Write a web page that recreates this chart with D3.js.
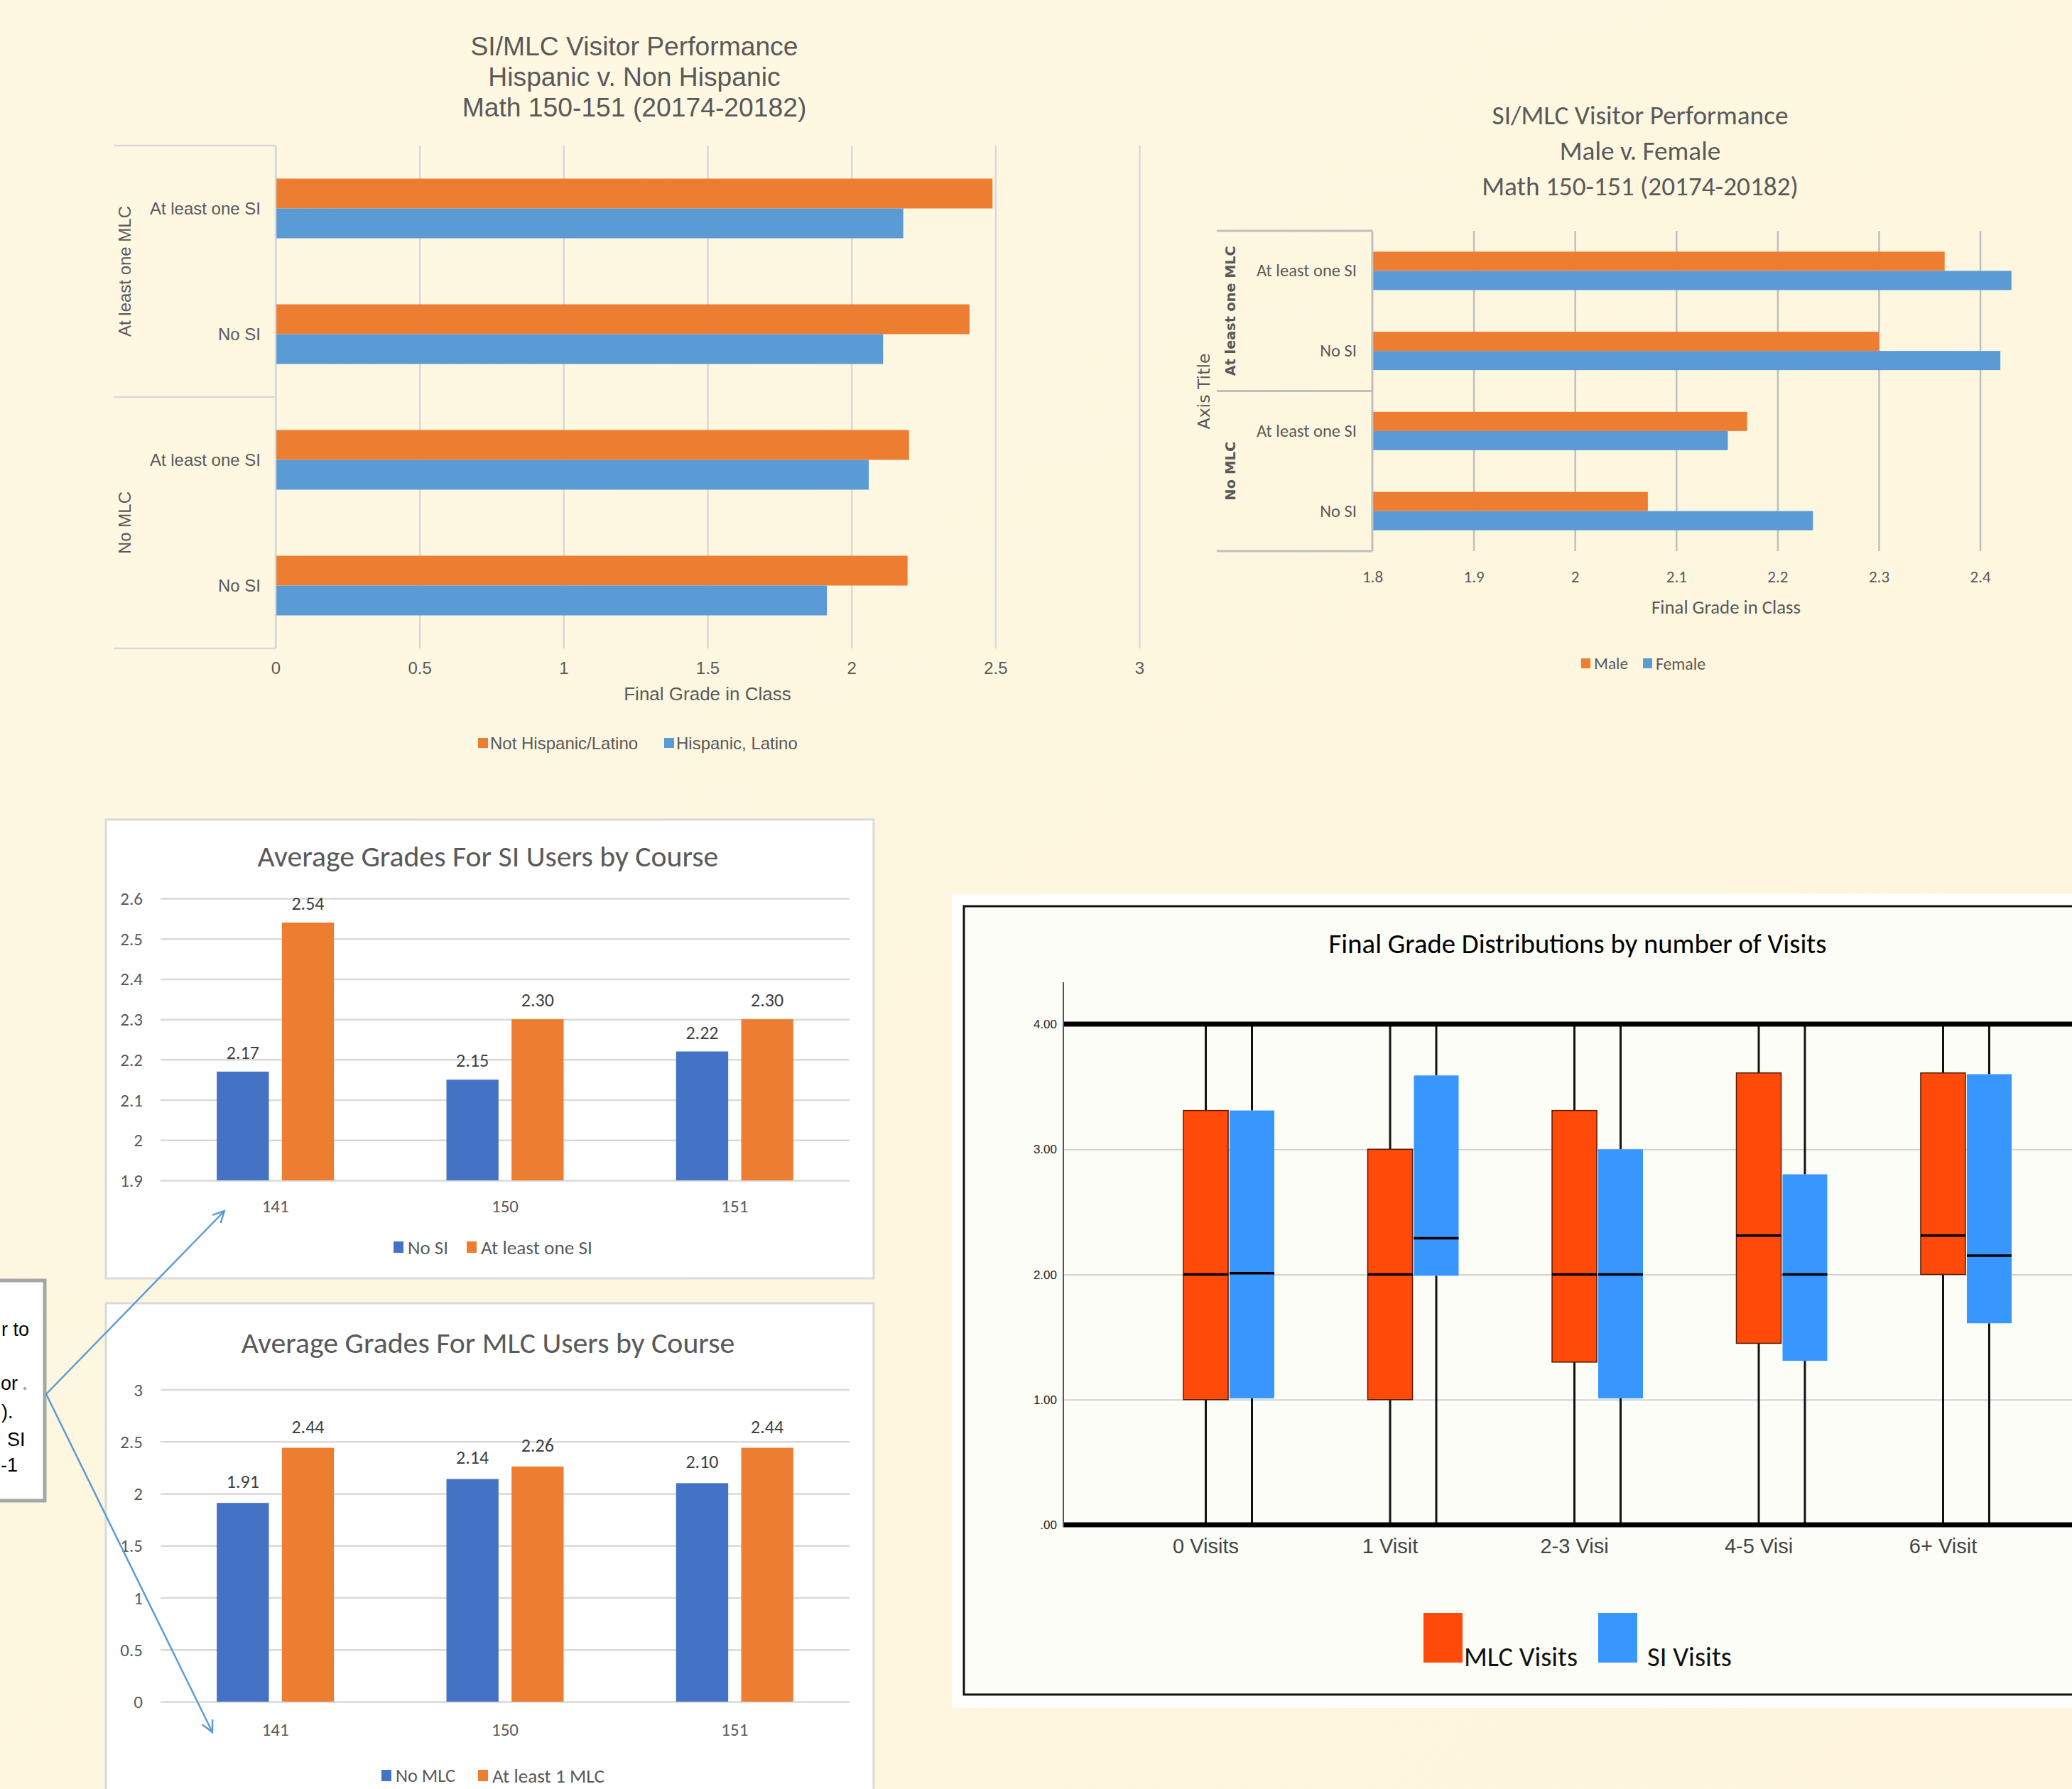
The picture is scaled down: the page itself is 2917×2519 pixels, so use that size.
<!DOCTYPE html>
<html>
<head>
<meta charset="utf-8">
<script src="https://cdn.jsdelivr.net/npm/d3@7"></script>
<style>
  html,body{margin:0;padding:0;background:#FEF7E0;}
  svg{display:block;}
</style>
</head>
<body>
<svg id="c" width="2917" height="2519"></svg>
<script>
// ---------------- DATA ----------------
// Chart 1: Hispanic v. Non Hispanic
const hispGroups = ["At least one MLC", "No MLC"];
const siCats = ["At least one SI", "No SI"];
const hispSeries = ["Not Hispanic/Latino", "Hispanic, Latino"];
const hispNotHispanic = [2.49, 2.41, 2.20, 2.195];
const hispHispanic = [2.18, 2.11, 2.06, 1.915];
const hispTicks = [0, 0.5, 1, 1.5, 2, 2.5, 3];
const hispTitle = ["SI/MLC Visitor Performance", "Hispanic v. Non Hispanic", "Math 150-151 (20174-20182)"];

// Chart 2: Male v. Female
const genderSeries = ["Male", "Female"];
const genderMale = [2.365, 2.30, 2.17, 2.072];
const genderFemale = [2.431, 2.42, 2.151, 2.235];
const genderTicks = [1.8, 1.9, 2, 2.1, 2.2, 2.3, 2.4];
const genderGrid = [1.9, 2, 2.1, 2.2, 2.3, 2.4, 2.5];
const genderTitle = ["SI/MLC Visitor Performance", "Male v. Female", "Math 150-151 (20174-20182)"];

// Chart 3: SI users by course
const courses = ["141", "150", "151"];
const siSeries = ["No SI", "At least one SI"];
const siNo = [2.17, 2.15, 2.22];
const siYes = [2.54, 2.30, 2.30];
const siTicks = [1.9, 2, 2.1, 2.2, 2.3, 2.4, 2.5, 2.6];

// Chart 4: MLC users by course
const mlcSeries = ["No MLC", "At least 1 MLC"];
const mlcNo = [1.91, 2.14, 2.10];
const mlcYes = [2.44, 2.26, 2.44];
const mlcTicks = [0, 0.5, 1, 1.5, 2, 2.5, 3];

// Chart 5: box plots  [min, q1, median, q3, max]
const visitCats = ["0 Visits", "1 Visit", "2-3 Visi", "4-5 Visi", "6+ Visit"];
const boxSeries = ["MLC Visits", "SI Visits"];
const mlcBox = [[0, 1.00, 2.00, 3.31, 4], [0, 1.00, 2.00, 3.00, 4], [0, 1.30, 2.00, 3.31, 4], [0, 1.45, 2.31, 3.61, 4], [0, 2.00, 2.31, 3.61, 4]];
const siBox  = [[0, 1.01, 2.01, 3.31, 4], [0, 1.99, 2.29, 3.59, 4], [0, 1.01, 2.00, 3.00, 4], [0, 1.31, 2.00, 2.80, 4], [0, 1.61, 2.15, 3.60, 4]];
const boxTicks = [0, 1, 2, 3, 4];

// Callout text fragments (visible part of a cropped text box)
const calloutLines = ["r to", "or", ").", "SI", "-1"];

// ---------------- STYLE ----------------
const svg = d3.select("#c");
const W = 2917, H = 2519;
const F_ARIAL = "'Liberation Sans', Arial, sans-serif";
const F_CAL = "Carlito, Lato, sans-serif";
const F_VERD = "'DejaVu Sans', Verdana, sans-serif";
const GREY = "#595959";
const ORANGE = "#ED7D31", LBLUE = "#5B9BD5", DBLUE = "#4472C4";
const BOX_RED = "#FF4A0A", BOX_BLUE = "#3896FF";

function fit(sel, target) {
  const fs = parseFloat(sel.attr("font-size"));
  const w = sel.node().getComputedTextLength();
  const nf = w > 0 ? fs * target / w : fs;
  sel.attr("font-size", nf);
  return nf;
}

const defs = svg.append("defs");
const bg = defs.append("linearGradient").attr("id", "bg").attr("x1", 0).attr("y1", 0).attr("x2", 1).attr("y2", 1);
bg.append("stop").attr("offset", 0).attr("stop-color", "#FEF8E3");
bg.append("stop").attr("offset", 1).attr("stop-color", "#FEF5DC");
svg.append("rect").attr("width", W).attr("height", H).attr("fill", "url(#bg)");

// ============ Chart 1: Hispanic ============
(function () {
  const L = 388, R = 1604, T = 205, B = 913;
  const rowKeys = hispGroups.flatMap(g => siCats.map(s => g + "|" + s));
  const x = d3.scaleLinear().domain([0, 3]).range([L, R]);
  const y = d3.scaleBand().domain(rowKeys).range([T, B]);
  const sub = d3.scaleBand().domain(hispSeries).range([0, y.bandwidth()]).paddingOuter(1.107);
  const g = svg.append("g");

  const tt = g.append("g").attr("font-family", F_ARIAL).attr("fill", GREY).attr("text-anchor", "middle");
  const t0 = tt.append("text").attr("x", 893).attr("y", 65).attr("dominant-baseline", "central").attr("font-size", 37).text(hispTitle[0]);
  const fs = fit(t0, 461);
  hispTitle.slice(1).forEach((s, i) => tt.append("text").attr("x", 893).attr("y", 108 + i * 43)
    .attr("dominant-baseline", "central").attr("font-size", fs).text(s));

  const ax = g.append("g").attr("transform", `translate(0,${B})`)
    .call(d3.axisBottom(x).tickValues(hispTicks).tickSize(-(B - T)).tickFormat(d => String(d)));
  ax.select(".domain").remove();
  ax.selectAll("line").attr("stroke", "#d9d9d9").attr("stroke-width", 2.5);
  ax.selectAll("text").attr("y", 27).attr("dy", null).attr("dominant-baseline", "central")
    .attr("font-size", 24).attr("font-family", F_ARIAL).attr("fill", GREY);

  const rows = rowKeys.map((k, i) => ({ k, vals: [hispNotHispanic[i], hispHispanic[i]] }));
  g.selectAll("g.row").data(rows).join("g").attr("class", "row")
    .attr("transform", d => `translate(0,${y(d.k)})`)
    .selectAll("rect").data(d => hispSeries.map((s, j) => ({ s, v: d.vals[j], j })))
    .join("rect")
    .attr("x", x(0)).attr("y", d => sub(d.s)).attr("height", sub.bandwidth())
    .attr("width", d => x(d.v) - x(0)).attr("fill", d => [ORANGE, LBLUE][d.j]);

  const cy = g.append("g").attr("transform", `translate(${L},0)`)
    .call(d3.axisLeft(y).tickSize(0).tickPadding(21).tickFormat(k => k.split("|")[1]));
  cy.select(".domain").remove();
  cy.selectAll("text").attr("dy", null).attr("dominant-baseline", "central")
    .attr("font-size", 24).attr("font-family", F_ARIAL).attr("fill", GREY);

  const sep = [T, y(rowKeys[2]), B];
  g.selectAll("line.sep").data(sep).join("line").attr("class", "sep")
    .attr("x1", 160).attr("x2", L).attr("y1", d => d).attr("y2", d => d)
    .attr("stroke", "#d9d9d9").attr("stroke-width", 2.5);
  g.append("line").attr("x1", L).attr("x2", L).attr("y1", T).attr("y2", B)
    .attr("stroke", "#d9d9d9").attr("stroke-width", 2.5);

  hispGroups.forEach((gl, i) => {
    const cyy = (sep[i] + sep[i + 1]) / 2;
    g.append("text").attr("transform", `translate(175,${cyy}) rotate(-90)`)
      .attr("text-anchor", "middle").attr("dominant-baseline", "central")
      .attr("font-family", F_ARIAL).attr("font-size", 24).attr("fill", GREY).text(gl);
  });

  g.append("text").attr("x", (L + R) / 2).attr("y", 977).attr("text-anchor", "middle")
    .attr("dominant-baseline", "central").attr("font-family", F_ARIAL).attr("font-size", 26)
    .attr("fill", GREY).text("Final Grade in Class");

  const lx = [673, 935];
  hispSeries.forEach((s, i) => {
    g.append("rect").attr("x", lx[i]).attr("y", 1046 - 7).attr("width", 14).attr("height", 14)
      .attr("fill", [ORANGE, LBLUE][i]);
    g.append("text").attr("x", lx[i] + 17).attr("y", 1046).attr("dominant-baseline", "central")
      .attr("font-family", F_ARIAL).attr("font-size", 24).attr("fill", GREY).text(s);
  });
})();

// ============ Chart 2: Gender ============
(function () {
  const L = 1932, T = 325, B = 776;
  const rowKeys = hispGroups.flatMap(g => siCats.map(s => g + "|" + s));
  const x = d3.scaleLinear().domain([1.8, 2.5]).range([L, L + 0.7 * 1426]);
  const y = d3.scaleBand().domain(rowKeys).range([T, B]);
  const sub = d3.scaleBand().domain(genderSeries).range([0, y.bandwidth()]).paddingOuter(1.088);
  const g = svg.append("g");

  const tt = g.append("g").attr("font-family", F_CAL).attr("fill", GREY).attr("text-anchor", "middle");
  const t0 = tt.append("text").attr("x", 2309).attr("y", 162).attr("dominant-baseline", "central").attr("font-size", 36).text(genderTitle[0]);
  const fs = fit(t0, 417);
  genderTitle.slice(1).forEach((s, i) => tt.append("text").attr("x", 2309).attr("y", 212 + i * 50)
    .attr("dominant-baseline", "central").attr("font-size", fs).text(s));

  // gridlines
  const gr = g.append("g").attr("transform", `translate(0,${B})`)
    .call(d3.axisBottom(x).tickValues(genderGrid).tickSize(-(B - T)).tickFormat(""));
  gr.select(".domain").remove();
  gr.selectAll("line").attr("stroke", "#bfbfbf").attr("stroke-width", 2.5);
  // tick labels
  const ax = g.append("g").attr("transform", `translate(0,${B})`)
    .call(d3.axisBottom(x).tickValues(genderTicks).tickSize(0).tickFormat(d => String(d)));
  ax.select(".domain").remove();
  ax.selectAll("text").attr("y", 36).attr("dy", null).attr("dominant-baseline", "central")
    .attr("font-size", 23).attr("font-family", F_CAL).attr("fill", GREY);

  const rows = rowKeys.map((k, i) => ({ k, vals: [genderMale[i], genderFemale[i]] }));
  g.selectAll("g.row").data(rows).join("g").attr("class", "row")
    .attr("transform", d => `translate(0,${y(d.k)})`)
    .selectAll("rect").data(d => genderSeries.map((s, j) => ({ s, v: d.vals[j], j })))
    .join("rect")
    .attr("x", x(1.8)).attr("y", d => sub(d.s)).attr("height", sub.bandwidth())
    .attr("width", d => x(d.v) - x(1.8)).attr("fill", d => [ORANGE, LBLUE][d.j]);

  const cy = g.append("g").attr("transform", `translate(${L},0)`)
    .call(d3.axisLeft(y).tickSize(0).tickPadding(22).tickFormat(k => k.split("|")[1]));
  cy.select(".domain").remove();
  const ct = cy.selectAll("text").attr("dy", null).attr("dominant-baseline", "central")
    .attr("font-size", 23).attr("font-family", F_CAL).attr("fill", GREY);
  const cfs = fit(d3.select(ct.nodes()[0]), 141);
  ct.attr("font-size", cfs);

  const sep = [T, y(rowKeys[2]), B];
  g.selectAll("line.sep").data(sep).join("line").attr("class", "sep")
    .attr("x1", 1713).attr("x2", L).attr("y1", d => d).attr("y2", d => d)
    .attr("stroke", "#bfbfbf").attr("stroke-width", 3);
  g.append("line").attr("x1", L).attr("x2", L).attr("y1", T).attr("y2", B)
    .attr("stroke", "#bfbfbf").attr("stroke-width", 3);

  const glw = [183, 83];
  hispGroups.forEach((gl, i) => {
    const cyy = (sep[i] + sep[i + 1]) / 2;
    const t = g.append("text").attr("transform", `translate(1732,${cyy}) rotate(-90)`)
      .attr("text-anchor", "middle").attr("dominant-baseline", "central")
      .attr("font-family", F_VERD).attr("font-weight", "bold").attr("font-size", 19).attr("fill", GREY).text(gl);
    fit(t, glw[i]);
  });
  const at = g.append("text").attr("transform", `translate(1695,551) rotate(-90)`)
    .attr("text-anchor", "middle").attr("dominant-baseline", "central")
    .attr("font-family", F_VERD).attr("font-size", 19).attr("fill", GREY).text("Axis Title");
  fit(at, 107);

  const xt = g.append("text").attr("x", 2430).attr("y", 855).attr("text-anchor", "middle")
    .attr("dominant-baseline", "central").attr("font-family", F_CAL).attr("font-size", 25)
    .attr("fill", GREY).text("Final Grade in Class");
  fit(xt, 210);

  const lx = [2226, 2313], lw = [48, 70];
  genderSeries.forEach((s, i) => {
    g.append("rect").attr("x", lx[i]).attr("y", 934 - 7).attr("width", 13).attr("height", 14)
      .attr("fill", [ORANGE, LBLUE][i]);
    const lt = g.append("text").attr("x", lx[i] + 18).attr("y", 934).attr("dominant-baseline", "central")
      .attr("font-family", F_CAL).attr("font-size", 22).attr("fill", GREY).text(s);
    fit(lt, lw[i]);
  });
})();

// ============ Column charts (3 & 4) ============
function columnChart(opt) {
  const g = svg.append("g");
  g.append("rect").attr("x", 149).attr("y", opt.boxTop).attr("width", 1081).attr("height", opt.boxH)
    .attr("fill", "#ffffff").attr("stroke", "#d9d9d9").attr("stroke-width", 3);
  const t = g.append("text").attr("x", 687).attr("y", opt.titleY).attr("text-anchor", "middle")
    .attr("dominant-baseline", "central").attr("font-family", F_CAL).attr("font-size", 36)
    .attr("fill", GREY).text(opt.title);
  fit(t, opt.titleW);

  const L = 226, R = 1196;
  const x = d3.scaleBand().domain(courses).range([L, R]);
  const xs = d3.scaleBand().domain(opt.series).range([x.bandwidth() / 2 - 82.5, x.bandwidth() / 2 + 82.5]).paddingInner(0.2);
  const y = d3.scaleLinear().domain(opt.domain).range([opt.y0, opt.y1]);

  const ay = g.append("g").attr("transform", `translate(${L},0)`)
    .call(d3.axisLeft(y).tickValues(opt.ticks).tickSize(-(R - L)).tickPadding(25).tickFormat(d => String(d)));
  ay.select(".domain").remove();
  ay.selectAll("line").attr("stroke", "#d9d9d9").attr("stroke-width", 2.5);
  ay.selectAll("text").attr("dy", null).attr("dominant-baseline", "central")
    .attr("font-size", 25).attr("font-family", F_CAL).attr("fill", GREY);

  const data = courses.map((c, i) => ({ c, vals: opt.values.map(v => v[i]) }));
  const grp = g.selectAll("g.grp").data(data).join("g").attr("class", "grp")
    .attr("transform", d => `translate(${x(d.c)},0)`);
  const items = grp.selectAll("g.it").data(d => opt.series.map((s, j) => ({ s, v: d.vals[j], j })))
    .join("g").attr("class", "it");
  items.append("rect").attr("x", d => xs(d.s)).attr("width", xs.bandwidth())
    .attr("y", d => y(d.v)).attr("height", d => y(opt.domain[0]) - y(d.v))
    .attr("fill", d => [DBLUE, ORANGE][d.j]);
  items.append("text").attr("x", d => xs(d.s) + xs.bandwidth() / 2).attr("y", d => y(d.v) - opt.lblOff)
    .attr("text-anchor", "middle").attr("dominant-baseline", "central")
    .attr("font-family", F_CAL).attr("font-size", 26).attr("fill", "#404040")
    .text(d => d.v.toFixed(2));

  const ax = g.append("g").attr("transform", `translate(0,${opt.y0})`)
    .call(d3.axisBottom(x).tickSize(0).tickFormat(d => d));
  ax.select(".domain").remove();
  ax.selectAll("text").attr("y", opt.xlblY - opt.y0).attr("dy", null).attr("dominant-baseline", "central")
    .attr("font-size", 25).attr("font-family", F_CAL).attr("fill", GREY);

  opt.series.forEach((s, i) => {
    g.append("rect").attr("x", opt.legX[i]).attr("y", opt.legY - 8).attr("width", 14).attr("height", 16)
      .attr("fill", [DBLUE, ORANGE][i]);
    const lt = g.append("text").attr("x", opt.legX[i] + 20).attr("y", opt.legY).attr("dominant-baseline", "central")
      .attr("font-family", F_CAL).attr("font-size", 23).attr("fill", GREY).text(s);
    fit(lt, opt.legW[i]);
  });
}

columnChart({
  boxTop: 1154, boxH: 646, title: "Average Grades For SI Users by Course", titleY: 1205, titleW: 649,
  series: siSeries, values: [siNo, siYes], domain: [1.9, 2.6], ticks: siTicks,
  y0: 1662, y1: 1265, lblOff: 27, xlblY: 1698, legY: 1756, legX: [554, 657], legW: [57, 157]
});
columnChart({
  boxTop: 1835, boxH: 720, title: "Average Grades For MLC Users by Course", titleY: 1890, titleW: 695,
  series: mlcSeries, values: [mlcNo, mlcYes], domain: [0, 3], ticks: mlcTicks,
  y0: 2396, y1: 1956.5, lblOff: 30, xlblY: 2435, legY: 2500, legX: [537, 673], legW: [84, 158]
});

// ============ Callout box + arrows ============
(function () {
  const g = svg.append("g");
  g.append("rect").attr("x", -10).attr("y", 1803).attr("width", 73).attr("height", 310)
    .attr("fill", "#ffffff").attr("stroke", "#a6a6a6").attr("stroke-width", 5);
  const pos = [[2, 1872], [1, 1948], [2, 1988], [10, 2027], [1, 2063]];
  calloutLines.forEach((s, i) => {
    g.append("text").attr("x", pos[i][0]).attr("y", pos[i][1]).attr("text-anchor", "start")
      .attr("dominant-baseline", "central").attr("font-family", F_ARIAL).attr("font-size", 27)
      .attr("fill", "#000").text(s);
  });
  g.append("rect").attr("x", 33).attr("y", 1953).attr("width", 4).attr("height", 4)
    .attr("fill", "#a6a6a6").attr("transform", "rotate(45,35,1955)");

  defs.append("marker").attr("id", "arr").attr("viewBox", "0 0 10 10").attr("refX", 9).attr("refY", 5)
    .attr("markerWidth", 20).attr("markerHeight", 20).attr("markerUnits", "userSpaceOnUse")
    .attr("orient", "auto")
    .append("path").attr("d", "M1,1 L9,5 L1,9").attr("fill", "none").attr("stroke", LBLUE).attr("stroke-width", 1.2);
  [[316, 1705], [299, 2439]].forEach(p => {
    g.append("line").attr("x1", 65).attr("y1", 1963).attr("x2", p[0]).attr("y2", p[1])
      .attr("stroke", LBLUE).attr("stroke-width", 2.5).attr("marker-end", "url(#arr)");
  });
})();

// ============ Chart 5: Box plots ============
(function () {
  const g = svg.append("g");
  g.append("rect").attr("x", 1340).attr("y", 1259).attr("width", 1600).attr("height", 1146).attr("fill", "#ffffff");
  g.append("rect").attr("x", 1357).attr("y", 1276).attr("width", 1600).attr("height", 1110)
    .attr("fill", "#FDFDF8").attr("stroke", "#111").attr("stroke-width", 3);

  const t = g.append("text").attr("x", 2221).attr("y", 1328).attr("text-anchor", "middle")
    .attr("dominant-baseline", "central").attr("font-family", F_CAL).attr("font-size", 32)
    .attr("fill", "#000").text("Final Grade Distributions by number of Visits");
  fit(t, 701);

  const L = 1497, Rfull = 3001;
  const y = d3.scaleLinear().domain([0, 4]).range([2147, 1442]);
  const x = d3.scaleBand().domain(visitCats).range([L, Rfull]).paddingInner(0).paddingOuter(0.398);
  const bw = x.bandwidth();
  const xs = d3.scaleBand().domain(boxSeries).range([bw / 2 - 64, bw / 2 + 64]).paddingInner(0.03);

  const ay = g.append("g").attr("transform", `translate(${L},0)`)
    .call(d3.axisLeft(y).tickValues(boxTicks).tickSize(-(W - L)).tickPadding(9)
      .tickFormat(d => d === 0 ? ".00" : d.toFixed(2)));
  ay.select(".domain").remove();
  ay.selectAll("line").attr("stroke", "#d2d2d2").attr("stroke-width", 2);
  ay.selectAll("text").attr("dy", null).attr("dominant-baseline", "central")
    .attr("font-size", 17).attr("font-family", "'Liberation Sans Narrow', 'Liberation Sans', sans-serif").attr("fill", "#222");

  const data = visitCats.map((c, i) => ({ c, boxes: [mlcBox[i], siBox[i]] }));
  const grp = g.selectAll("g.bgrp").data(data).join("g").attr("class", "bgrp")
    .attr("transform", d => `translate(${x(d.c)},0)`);
  const it = grp.selectAll("g.bx").data(d => boxSeries.map((s, j) => ({ s, b: d.boxes[j], j })))
    .join("g").attr("class", "bx");
  const cx = d => xs(d.s) + xs.bandwidth() / 2;
  it.append("line").attr("x1", cx).attr("x2", cx).attr("y1", d => y(d.b[4])).attr("y2", d => y(d.b[3]))
    .attr("stroke", "#111").attr("stroke-width", 3);
  it.append("line").attr("x1", cx).attr("x2", cx).attr("y1", d => y(d.b[1])).attr("y2", d => y(d.b[0]))
    .attr("stroke", "#111").attr("stroke-width", 3);
  it.append("rect").attr("x", d => xs(d.s)).attr("width", xs.bandwidth())
    .attr("y", d => y(d.b[3])).attr("height", d => y(d.b[1]) - y(d.b[3]))
    .attr("fill", d => [BOX_RED, BOX_BLUE][d.j])
    .attr("stroke", d => d.j === 0 ? "#5a1a00" : "none").attr("stroke-width", 1.5);
  it.append("line").attr("x1", d => xs(d.s)).attr("x2", d => xs(d.s) + xs.bandwidth())
    .attr("y1", d => y(d.b[2])).attr("y2", d => y(d.b[2]))
    .attr("stroke", "#000").attr("stroke-width", 3.5);

  [0, 4].forEach(v => g.append("line").attr("x1", L).attr("x2", W).attr("y1", y(v)).attr("y2", y(v))
    .attr("stroke", "#000").attr("stroke-width", 7));
  g.append("line").attr("x1", L).attr("x2", L).attr("y1", 1383).attr("y2", 2150)
    .attr("stroke", "#555").attr("stroke-width", 2);

  const shift = xs(boxSeries[0]) + xs.bandwidth() / 2 - bw / 2;
  const ax = g.append("g").attr("transform", `translate(${shift},2147)`)
    .call(d3.axisBottom(x).tickSize(0).tickFormat(d => d));
  ax.select(".domain").remove();
  ax.selectAll("text").attr("y", 30).attr("dy", null).attr("dominant-baseline", "central")
    .attr("font-size", 29).attr("font-family", F_ARIAL).attr("fill", "#444");

  const lgx = [2004, 2250], lgt = [2061, 2319], lgw = [160, 119];
  boxSeries.forEach((s, i) => {
    g.append("rect").attr("x", lgx[i]).attr("y", 2271).attr("width", 55).attr("height", 70)
      .attr("fill", [BOX_RED, BOX_BLUE][i]);
    const lt = g.append("text").attr("x", lgt[i]).attr("y", 2332).attr("dominant-baseline", "central")
      .attr("font-family", F_CAL).attr("font-size", 34).attr("fill", "#111").text(s);
    fit(lt, lgw[i]);
  });
})();
</script>
</body>
</html>
